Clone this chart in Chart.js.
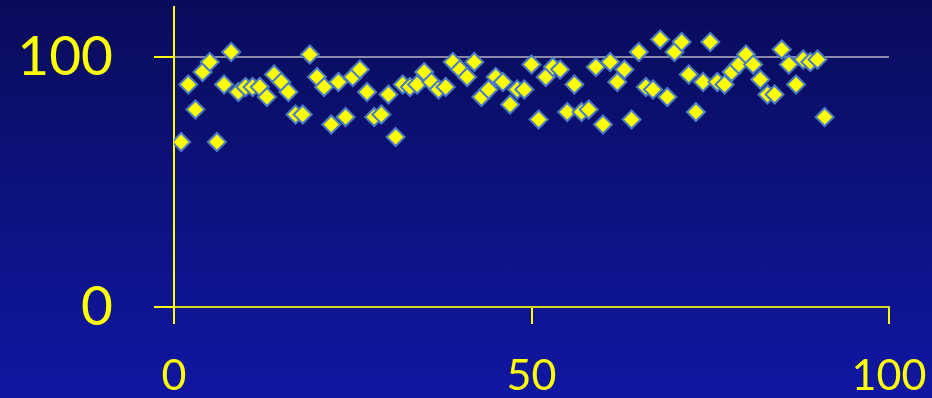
<!DOCTYPE html>
<html>
<head>
<meta charset="utf-8">
<script src="https://cdn.jsdelivr.net/npm/chart.js@4"></script>
<style>
  html, body { margin: 0; padding: 0; }
  body { width: 932px; height: 398px; overflow: hidden;
         background: linear-gradient(#090c5a, #1017a2); }
  canvas { display: block; }
</style>
</head>
<body>
<canvas id="scatter" width="932" height="398"></canvas>
<script>
// x is just the sample index 1..91
const yValues = [
  66, 89, 79, 94, 98, 66, 89, 102, 86, 88,
  88, 88, 84, 93, 90, 86, 77, 77, 101, 92,
  88, 73, 90, 76, 92, 95, 86, 76, 77, 85,
  68, 89, 88, 89, 94, 90, 87, 88, 98, 95,
  92, 98, 84, 87, 92, 90, 81, 87, 87, 97,
  75, 92, 96, 95, 78, 89, 78, 79, 96, 73,
  98, 90, 95, 75, 102, 88, 87, 107, 84, 102,
  106, 93, 78, 90, 106, 90, 89, 94, 97, 101,
  97, 91, 85, 85, 103, 97, 89, 99, 98, 99,
  76
];
const xTicks = [0, 50, 100];
const yTicks = [0, 100];

const points = yValues.map((v, i) => ({ x: i + 1, y: v }));

const yellow = '#ffff00';

new Chart(document.getElementById('scatter').getContext('2d'), {
  type: 'scatter',
  data: {
    datasets: [{
      data: points,
      pointStyle: 'rectRot',
      pointRadius: 9,
      pointHoverRadius: 9,
      backgroundColor: yellow,
      borderColor: '#4a7cc4',
      borderWidth: 2
    }]
  },
  options: {
    responsive: false,
    animation: false,
    devicePixelRatio: 1,
    layout: { autoPadding: false, padding: { left: 0, top: 7, right: 43, bottom: 0 } },
    plugins: { legend: { display: false }, tooltip: { enabled: false } },
    scales: {
      x: {
        type: 'linear',
        min: 0,
        max: 100,
        afterBuildTicks: axis => { axis.ticks = xTicks.map(v => ({ value: v })); },
        afterFit: axis => {
          axis.height = 91;
          axis.paddingLeft = 0;
          axis.paddingRight = 0;
        },
        border: { color: '#d8d820', width: 2 },
        grid: { drawOnChartArea: false, tickLength: 17, tickColor: yellow, lineWidth: 2 },
        ticks: {
          color: yellow,
          padding: 26,
          maxRotation: 0,
          font: { family: 'Lato', size: 43 }
        }
      },
      y: {
        min: 0,
        max: 120,
        afterBuildTicks: axis => { axis.ticks = yTicks.map(v => ({ value: v })); },
        afterFit: axis => {
          axis.width = 174;
          axis.paddingTop = 0;
          axis.paddingBottom = 0;
        },
        border: { color: yellow, width: 2 },
        grid: {
          tickLength: 20,
          lineWidth: 2,
          tickColor: yellow,
          color: ctx => ctx.tick && ctx.tick.value === 100 ? '#8a8aa8' : 'rgba(0,0,0,0)'
        },
        ticks: {
          color: yellow,
          padding: 41,
          font: { family: 'Lato', size: 55 }
        }
      }
    }
  }
});
</script>
</body>
</html>
